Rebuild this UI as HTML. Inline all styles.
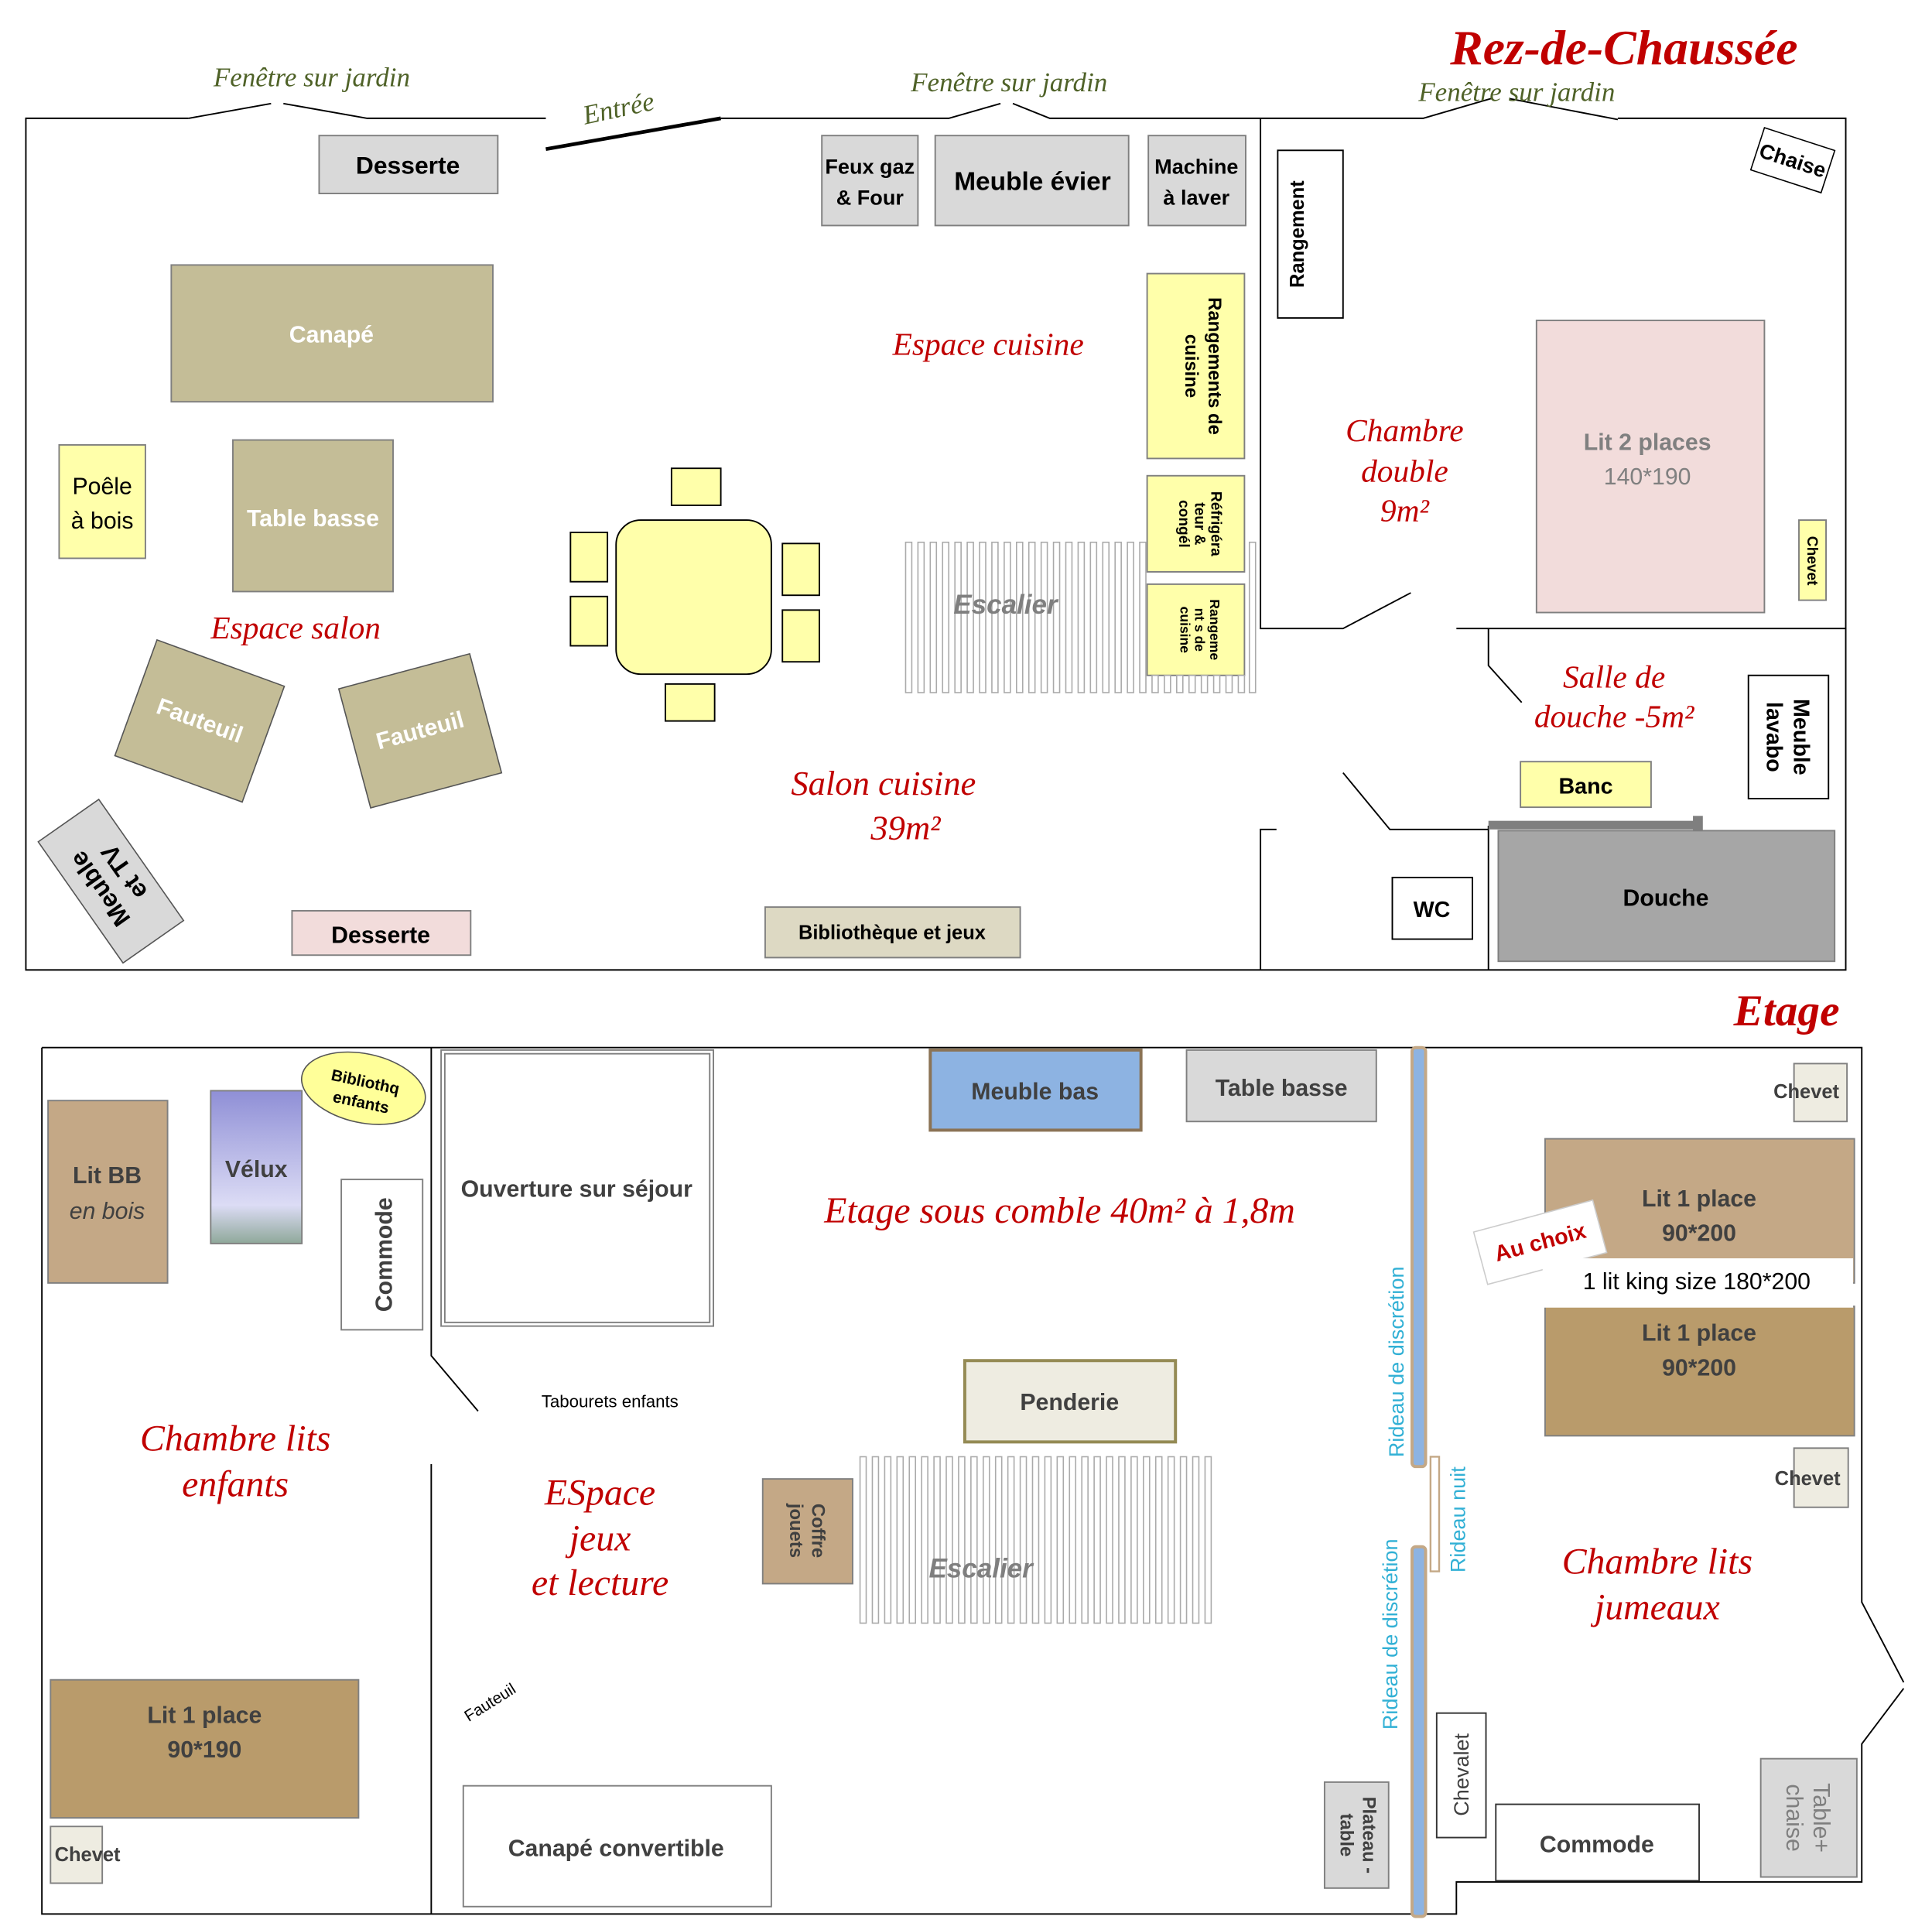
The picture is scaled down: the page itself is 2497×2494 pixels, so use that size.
<!DOCTYPE html>
<html><head><meta charset="utf-8"><style>
html,body{margin:0;padding:0;background:#fff;}
svg{display:block;}
text{font-family:"Liberation Sans",sans-serif;}
.s{font-family:"Liberation Serif",serif;font-style:italic;fill:#c00000;}
.g{font-family:"Liberation Serif",serif;font-style:italic;fill:#4f6228;font-size:22px;}
.b{font-weight:bold;}
</style></head><body>
<svg width="2497" height="2494" viewBox="0 0 1568 1566" preserveAspectRatio="none" xmlns="http://www.w3.org/2000/svg">
<defs>
<linearGradient id="vel" x1="0" y1="0" x2="0" y2="1"><stop offset="0" stop-color="#8f8fd6"/><stop offset="0.75" stop-color="#dcdcf5"/><stop offset="1" stop-color="#8fa89a"/></linearGradient>
</defs>
<g stroke="#000" stroke-width="1.2" fill="none">
<polyline points="153,96 21,96 21,787 1498,787 1498,96 1313,96"/>
<polyline points="153,96 220,84"/><polyline points="230,84 298,96 443,96"/>
<line x1="443" y1="121" x2="585" y2="96" stroke-width="3"/>
<polyline points="585,96 770,96 812,84"/><polyline points="822,84 852,96 1155,96 1210,80"/><polyline points="1225,80 1313,97"/>
<polyline points="1023,96 1023,510 1090,510 1145,481"/>
<line x1="1182" y1="510" x2="1498" y2="510"/>
<polyline points="1208,510 1208,540 1235,570"/>
<line x1="1208" y1="670" x2="1208" y2="787"/>
<polyline points="1090,627 1128,673 1208,673"/>
<polyline points="1036,673 1023,673 1023,787"/>
<polyline points="34,850 1511,850 1511,1300 1545,1365"/>
<polyline points="1545,1370 1511,1415 1511,1527 1182,1527 1182,1553 34,1553 34,850"/>
<polyline points="350,850 350,1100 388,1145"/>
<line x1="350" y1="1188" x2="350" y2="1553"/>
</g>
<rect x="1208" y="666" width="172" height="7" fill="#7f7f7f"/>
<rect x="1374" y="662" width="8" height="60" fill="#7f7f7f"/>

<g stroke="#7f7f7f" stroke-width="1.2">
<rect x="259" y="110" width="145" height="47" fill="#d9d9d9"/>
<rect x="667" y="110" width="78" height="73" fill="#d9d9d9"/>
<rect x="759" y="110" width="157" height="73" fill="#d9d9d9"/>
<rect x="932" y="110" width="79" height="73" fill="#d9d9d9"/>
<rect x="1037" y="122" width="53" height="136" fill="#fff" stroke="#000"/>
<rect x="139" y="215" width="261" height="111" fill="#c4bd97"/>
<rect x="48" y="361" width="70" height="92" fill="#ffffaa"/>
<rect x="189" y="357" width="130" height="123" fill="#c4bd97"/>
<rect x="237" y="739" width="145" height="36" fill="#f2dcdb"/>
<rect x="621" y="736" width="207" height="41" fill="#ddd9c3"/>
<rect x="500" y="422" width="126" height="125" rx="20" fill="#ffffaa" stroke="#000"/>
<rect x="545" y="380" width="40" height="30" fill="#ffffaa" stroke="#000"/>
<rect x="540" y="555" width="40" height="30" fill="#ffffaa" stroke="#000"/>
<rect x="463" y="432" width="30" height="40" fill="#ffffaa" stroke="#000"/>
<rect x="463" y="484" width="30" height="40" fill="#ffffaa" stroke="#000"/>
<rect x="635" y="441" width="30" height="42" fill="#ffffaa" stroke="#000"/>
<rect x="635" y="495" width="30" height="42" fill="#ffffaa" stroke="#000"/>
<rect x="931" y="222" width="79" height="150" fill="#ffffaa"/>
<rect x="931" y="386" width="79" height="78" fill="#ffffaa"/>
<rect x="931" y="474" width="79" height="74" fill="#ffffaa"/>
<rect x="1247" y="260" width="185" height="237" fill="#f2dcdb"/>
<rect x="1460" y="422" width="22" height="65" fill="#ffffaa"/>
<rect x="1419" y="548" width="65" height="100" fill="#fff" stroke="#000"/>
<rect x="1234" y="618" width="106" height="37" fill="#ffffaa"/>
<rect x="1216" y="674" width="273" height="106" fill="#a6a6a6"/>
<rect x="1130" y="712" width="65" height="50" fill="#fff" stroke="#000"/>
</g>

<g transform="translate(1455,130) rotate(18)"><rect x="-30" y="-18" width="60" height="36" fill="#fff" stroke="#000"/><text x="0" y="6" text-anchor="middle" font-size="17" class="b">Chaise</text></g>
<g transform="translate(162,585) rotate(20)"><rect x="-55" y="-50" width="110" height="100" fill="#c4bd97" stroke="#555"/><text x="0" y="6" text-anchor="middle" font-size="19" fill="#fff" class="b">Fauteuil</text></g>
<g transform="translate(341,593) rotate(-15)"><rect x="-55" y="-50" width="110" height="100" fill="#c4bd97" stroke="#555"/><text x="0" y="6" text-anchor="middle" font-size="19" fill="#fff" class="b">Fauteuil</text></g>
<g transform="translate(90,715) rotate(235)"><rect x="-60" y="-30" width="120" height="60" fill="#d9d9d9" stroke="#555"/><text x="0" y="-4" text-anchor="middle" font-size="20" class="b">Meuble</text><text x="0" y="20" text-anchor="middle" font-size="20" class="b">et TV</text></g>

<g fill="#fff" stroke="#aaa" stroke-width="1">
<rect x="735" y="440" width="5" height="122"/><rect x="745" y="440" width="5" height="122"/><rect x="755" y="440" width="5" height="122"/><rect x="765" y="440" width="5" height="122"/><rect x="775" y="440" width="5" height="122"/><rect x="785" y="440" width="5" height="122"/><rect x="795" y="440" width="5" height="122"/><rect x="805" y="440" width="5" height="122"/><rect x="815" y="440" width="5" height="122"/><rect x="825" y="440" width="5" height="122"/><rect x="835" y="440" width="5" height="122"/><rect x="845" y="440" width="5" height="122"/><rect x="855" y="440" width="5" height="122"/><rect x="865" y="440" width="5" height="122"/><rect x="875" y="440" width="5" height="122"/><rect x="885" y="440" width="5" height="122"/><rect x="895" y="440" width="5" height="122"/><rect x="905" y="440" width="5" height="122"/><rect x="915" y="440" width="5" height="122"/><rect x="925" y="440" width="5" height="122"/><rect x="935" y="548" width="5" height="14"/><rect x="945" y="548" width="5" height="14"/><rect x="955" y="548" width="5" height="14"/><rect x="965" y="548" width="5" height="14"/><rect x="975" y="548" width="5" height="14"/><rect x="985" y="548" width="5" height="14"/><rect x="995" y="548" width="5" height="14"/><rect x="1005" y="548" width="5" height="14"/><rect x="1014" y="440" width="5" height="122"/>
<rect x="698" y="1182" width="5" height="135"/><rect x="708" y="1182" width="5" height="135"/><rect x="718" y="1182" width="5" height="135"/><rect x="728" y="1182" width="5" height="135"/><rect x="738" y="1182" width="5" height="135"/><rect x="748" y="1182" width="5" height="135"/><rect x="758" y="1182" width="5" height="135"/><rect x="768" y="1182" width="5" height="135"/><rect x="778" y="1182" width="5" height="135"/><rect x="788" y="1182" width="5" height="135"/><rect x="798" y="1182" width="5" height="135"/><rect x="808" y="1182" width="5" height="135"/><rect x="818" y="1182" width="5" height="135"/><rect x="828" y="1182" width="5" height="135"/><rect x="838" y="1182" width="5" height="135"/><rect x="848" y="1182" width="5" height="135"/><rect x="858" y="1182" width="5" height="135"/><rect x="868" y="1182" width="5" height="135"/><rect x="878" y="1182" width="5" height="135"/><rect x="888" y="1182" width="5" height="135"/><rect x="898" y="1182" width="5" height="135"/><rect x="908" y="1182" width="5" height="135"/><rect x="918" y="1182" width="5" height="135"/><rect x="928" y="1182" width="5" height="135"/><rect x="938" y="1182" width="5" height="135"/><rect x="948" y="1182" width="5" height="135"/><rect x="958" y="1182" width="5" height="135"/><rect x="968" y="1182" width="5" height="135"/><rect x="978" y="1182" width="5" height="135"/>
</g>

<text x="1318" y="52" text-anchor="middle" class="s" font-size="40" font-weight="bold">Rez-de-Chaussée</text>
<text x="253" y="70" text-anchor="middle" class="g">Fenêtre sur jardin</text>
<text x="819" y="74" text-anchor="middle" class="g">Fenêtre sur jardin</text>
<text x="1231" y="82" text-anchor="middle" class="g">Fenêtre sur jardin</text>
<text x="502" y="95" text-anchor="middle" class="g" font-size="28" transform="rotate(-12 502 88)">Entrée</text>
<text x="331" y="141" text-anchor="middle" font-size="20" class="b">Desserte</text>
<text x="706" y="141" text-anchor="middle" font-size="17" class="b">Feux gaz</text>
<text x="706" y="166" text-anchor="middle" font-size="17" class="b">&amp; Four</text>
<text x="838" y="154" text-anchor="middle" font-size="21" class="b">Meuble évier</text>
<text x="971" y="141" text-anchor="middle" font-size="17" class="b">Machine</text>
<text x="971" y="166" text-anchor="middle" font-size="17" class="b">à laver</text>
<text transform="translate(1058,190) rotate(-90)" text-anchor="middle" font-size="16" class="b">Rangement</text>
<text x="269" y="278" text-anchor="middle" font-size="19" fill="#fff" class="b">Canapé</text>
<text x="83" y="401" text-anchor="middle" font-size="19">Poêle</text>
<text x="83" y="429" text-anchor="middle" font-size="19">à bois</text>
<text x="254" y="427" text-anchor="middle" font-size="19" fill="#fff" class="b">Table basse</text>
<text x="240" y="518" text-anchor="middle" class="s" font-size="26">Espace salon</text>
<text x="309" y="765" text-anchor="middle" font-size="19" class="b">Desserte</text>
<text x="724" y="762" text-anchor="middle" font-size="16" class="b">Bibliothèque et jeux</text>
<text x="802" y="288" text-anchor="middle" class="s" font-size="26">Espace cuisine</text>
<text transform="translate(976,297) rotate(90)" text-anchor="middle" font-size="15" class="b"><tspan x="0" y="-5">Rangements de</tspan><tspan x="0" y="14">cuisine</tspan></text>
<text transform="translate(970,425) rotate(90)" text-anchor="middle" font-size="12" class="b"><tspan x="0" y="-13">Réfrigéra</tspan><tspan x="0" y="0">teur &amp;</tspan><tspan x="0" y="13">congél</tspan></text>
<text transform="translate(970,511) rotate(90)" text-anchor="middle" font-size="11" class="b"><tspan x="0" y="-12">Rangeme</tspan><tspan x="0" y="0">nt s de</tspan><tspan x="0" y="12">cuisine</tspan></text>
<text x="816" y="498" text-anchor="middle" font-size="22" font-style="italic" font-weight="bold" fill="#7f7f7f">Escalier</text>
<text x="1140" y="358" text-anchor="middle" class="s" font-size="26">Chambre</text>
<text x="1140" y="391" text-anchor="middle" class="s" font-size="26">double</text>
<text x="1140" y="423" text-anchor="middle" class="s" font-size="26">9m²</text>
<text x="1337" y="365" text-anchor="middle" font-size="19" fill="#808080" class="b">Lit 2 places</text>
<text x="1337" y="393" text-anchor="middle" font-size="19" fill="#808080">140*190</text>
<text transform="translate(1471,455) rotate(90)" text-anchor="middle" font-size="12" class="b" y="4">Chevet</text>
<text x="1310" y="558" text-anchor="middle" class="s" font-size="26">Salle de</text>
<text x="1310" y="590" text-anchor="middle" class="s" font-size="26">douche -5m²</text>
<text transform="translate(1452,598) rotate(90)" text-anchor="middle" font-size="18" class="b"><tspan x="0" y="-4">Meuble</tspan><tspan x="0" y="18">lavabo</tspan></text>
<text x="1287" y="644" text-anchor="middle" font-size="18" class="b">Banc</text>
<text x="1352" y="735" text-anchor="middle" font-size="19" class="b">Douche</text>
<text x="1162" y="744" text-anchor="middle" font-size="18" class="b">WC</text>
<text x="717" y="645" text-anchor="middle" class="s" font-size="28">Salon cuisine</text>
<text x="735" y="681" text-anchor="middle" class="s" font-size="28">39m²</text>

<g stroke="#7f7f7f" stroke-width="1.2">
<rect x="39" y="893" width="97" height="148" fill="#c4a886"/>
<rect x="171" y="885" width="74" height="124" fill="url(#vel)"/>
<rect x="277" y="957" width="66" height="122" fill="#fff"/>
<rect x="358" y="852" width="221" height="224" fill="#fff"/>
<rect x="361" y="855" width="215" height="218" fill="none"/>
<rect x="755" y="852" width="171" height="65" fill="#8db3e2" stroke="#8b7355" stroke-width="2.5"/>
<rect x="963" y="852" width="154" height="58" fill="#d9d9d9"/>
<rect x="1456" y="863" width="43" height="47" fill="#eeece1"/>
<rect x="1254" y="924" width="251" height="117" fill="#c4a886"/>
<rect x="1254" y="1060" width="251" height="105" fill="#b99b6b"/>
<rect x="1456" y="1175" width="44" height="48" fill="#eeece1"/>
<rect x="783" y="1104" width="171" height="66" fill="#eeece1" stroke="#948a54" stroke-width="2.5"/>
<rect x="619" y="1200" width="73" height="85" fill="#c4a886"/>
<rect x="41" y="1363" width="250" height="112" fill="#b99b6b"/>
<rect x="41" y="1482" width="42" height="46" fill="#eeece1"/>
<rect x="376" y="1449" width="250" height="98" fill="#fff"/>
<rect x="1075" y="1446" width="52" height="86" fill="#d9d9d9"/>
<rect x="1166" y="1390" width="40" height="101" fill="#fff" stroke="#333"/>
<rect x="1214" y="1464" width="165" height="62" fill="#fff" stroke="#333"/>
<rect x="1429" y="1427" width="78" height="96" fill="#d9d9d9"/>
</g>
<ellipse cx="295" cy="883" rx="51" ry="28" transform="rotate(12 295 883)" fill="#ffff99" stroke="#555"/>
<rect x="1146" y="850" width="11" height="340" fill="#8db3e2" stroke="#c4a886" stroke-width="2.5" rx="3"/>
<rect x="1146" y="1255" width="11" height="300" fill="#8db3e2" stroke="#c4a886" stroke-width="2.5" rx="3"/>
<rect x="1161" y="1182" width="7" height="93" fill="#fff" stroke="#c4a886" stroke-width="1.5"/>
<g transform="translate(1250,1008) rotate(-15)"><rect x="-50" y="-22" width="100" height="44" fill="#fff" stroke="#ccc"/><text x="0" y="6" text-anchor="middle" font-size="18" fill="#c00000" class="b">Au choix</text></g>
<rect x="1252" y="1021" width="252" height="40" fill="#fff"/>

<text x="1450" y="832" text-anchor="middle" class="s" font-size="36" font-weight="bold">Etage</text>
<text x="87" y="960" text-anchor="middle" font-size="19" fill="#404040" class="b">Lit  BB</text>
<text x="87" y="989" text-anchor="middle" font-size="19" fill="#404040" font-style="italic">en bois</text>
<text x="208" y="955" text-anchor="middle" font-size="19" fill="#404040" class="b">Vélux</text>
<text transform="translate(295,885) rotate(12)" text-anchor="middle" font-size="13" class="b"><tspan x="0" y="-3">Bibliothq</tspan><tspan x="0" y="14">enfants</tspan></text>
<text transform="translate(318,1018) rotate(-90)" text-anchor="middle" font-size="19" fill="#404040" class="b">Commode</text>
<text x="468" y="971" text-anchor="middle" font-size="19" fill="#404040" class="b">Ouverture sur séjour</text>
<text x="840" y="892" text-anchor="middle" font-size="19" fill="#404040" class="b">Meuble bas</text>
<text x="1040" y="889" text-anchor="middle" font-size="19" fill="#404040" class="b">Table basse</text>
<text x="860" y="992" text-anchor="middle" class="s" font-size="30">Etage sous comble 40m² à 1,8m</text>
<text transform="translate(1139,1105) rotate(-90)" text-anchor="middle" font-size="17" fill="#31b0d5">Rideau de discrétion</text>
<text transform="translate(1134,1326) rotate(-90)" text-anchor="middle" font-size="17" fill="#31b0d5">Rideau de discrétion</text>
<text transform="translate(1189,1233) rotate(-90)" text-anchor="middle" font-size="17" fill="#31b0d5">Rideau nuit</text>
<text x="1466" y="891" text-anchor="middle" font-size="16" fill="#404040" class="b">Chevet</text>
<text x="1379" y="979" text-anchor="middle" font-size="19" fill="#404040" class="b">Lit 1 place</text>
<text x="1379" y="1007" text-anchor="middle" font-size="19" fill="#404040" class="b">90*200</text>
<text x="1377" y="1046" text-anchor="middle" font-size="19">1 lit king size 180*200</text>
<text x="1379" y="1088" text-anchor="middle" font-size="19" fill="#404040" class="b">Lit 1 place</text>
<text x="1379" y="1116" text-anchor="middle" font-size="19" fill="#404040" class="b">90*200</text>
<text x="1467" y="1205" text-anchor="middle" font-size="16" fill="#404040" class="b">Chevet</text>
<text x="868" y="1144" text-anchor="middle" font-size="19" fill="#404040" class="b">Penderie</text>
<text x="495" y="1142" text-anchor="middle" font-size="14">Tabourets enfants</text>
<text x="191" y="1177" text-anchor="middle" class="s" font-size="30">Chambre lits</text>
<text x="191" y="1214" text-anchor="middle" class="s" font-size="30">enfants</text>
<text x="487" y="1221" text-anchor="middle" class="s" font-size="30">ESpace</text>
<text x="487" y="1258" text-anchor="middle" class="s" font-size="30">jeux</text>
<text x="487" y="1294" text-anchor="middle" class="s" font-size="30">et lecture</text>
<text transform="translate(655,1242) rotate(90)" text-anchor="middle" font-size="15" fill="#404040" class="b"><tspan x="0" y="-4">Coffre</tspan><tspan x="0" y="14">jouets</tspan></text>
<text x="796" y="1280" text-anchor="middle" font-size="22" font-style="italic" font-weight="bold" fill="#7f7f7f">Escalier</text>
<text x="1345" y="1277" text-anchor="middle" class="s" font-size="30">Chambre lits</text>
<text x="1345" y="1314" text-anchor="middle" class="s" font-size="30">jumeaux</text>
<text transform="translate(400,1385) rotate(-32)" text-anchor="middle" font-size="13">Fauteuil</text>
<text x="166" y="1398" text-anchor="middle" font-size="19" fill="#404040" class="b">Lit 1 place</text>
<text x="166" y="1426" text-anchor="middle" font-size="19" fill="#404040" class="b">90*190</text>
<text x="71" y="1510" text-anchor="middle" font-size="16" fill="#404040" class="b">Chevet</text>
<text x="500" y="1506" text-anchor="middle" font-size="19" fill="#404040" class="b">Canapé convertible</text>
<text transform="translate(1101,1489) rotate(90)" text-anchor="middle" font-size="15" fill="#404040" class="b"><tspan x="0" y="-5">Plateau -</tspan><tspan x="0" y="13">table</tspan></text>
<text transform="translate(1192,1440) rotate(-90)" text-anchor="middle" font-size="17" fill="#404040">Chevalet</text>
<text x="1296" y="1503" text-anchor="middle" font-size="19" fill="#404040" class="b">Commode</text>
<text transform="translate(1468,1475) rotate(90)" text-anchor="middle" font-size="19" fill="#7f7f7f"><tspan x="0" y="-4">Table+</tspan><tspan x="0" y="18">chaise</tspan></text>
</svg>
</body></html>
